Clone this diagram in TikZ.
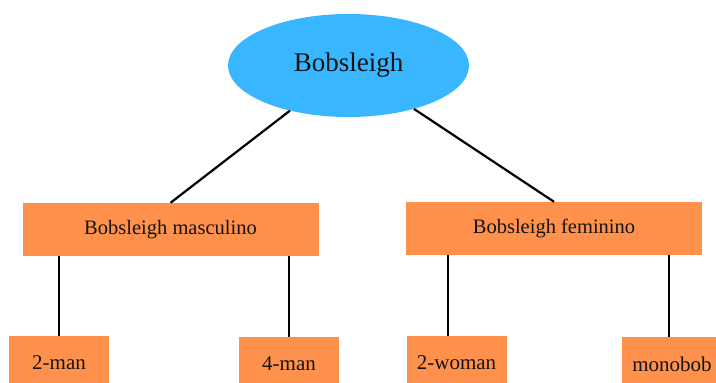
\documentclass[tikz,border=0pt]{standalone}
\usepackage{fontspec}
\setmainfont{Liberation Serif}
\usetikzlibrary{shapes.geometric}
\definecolor{skyblue}{RGB}{56,182,255}
\definecolor{boxorange}{RGB}{255,145,77}
\definecolor{ink}{RGB}{20,20,20}
\tikzset{
  root/.style={ellipse, fill=skyblue, minimum width=241pt, minimum height=103pt,
    inner sep=0pt, text=ink, font=\fontsize{27}{32}\selectfont},
  group/.style={rectangle, fill=boxorange, minimum width=296pt, minimum height=53pt,
    inner sep=0pt, text=ink, font=\fontsize{20.5}{24}\selectfont},
  leaf/.style={rectangle, fill=boxorange, minimum width=100pt, minimum height=54pt,
    inner sep=0pt, text=ink, font=\fontsize{21}{25}\selectfont},
  link/.style={draw=black, line width=2.2pt}
}
\begin{document}
\begin{tikzpicture}[x=1pt,y=-1pt]
  \useasboundingbox (0,0) rectangle (716,383);
  \fill[white] (0,0) rectangle (716,383);
  \clip (0,0) rectangle (716,383);

  % top node and the two groups
  \node[root] (top) at (348.5,65.5) {Bobsleigh};
  \node[group] (masc) at (170.5,229.5) {Bobsleigh masculino};
  \node[group] (fem) at (554,228.5) {Bobsleigh feminino};

  % leaves
  \node[leaf] (m2) at (59,363) {2-man};
  \node[leaf] (m4) at (289,364) {4-man};
  \node[leaf] (w2) at (456.5,363) {2-woman};
  \node[leaf] (mono) at (672,364) {monobob};

  % connectors
  \draw[link] (top) -- (masc.north);
  \draw[link] (top) -- (fem.north);
  \draw[link] (m2.north |- masc.south) -- (m2.north);
  \draw[link] (m4.north |- masc.south) -- (m4.north);
  \draw[link] ([xshift=-8.5pt]w2.north |- fem.south) -- ([xshift=-8.5pt]w2.north);
  \draw[link] ([xshift=-3pt]mono.north |- fem.south) -- ([xshift=-3pt]mono.north);
\end{tikzpicture}
\end{document}
